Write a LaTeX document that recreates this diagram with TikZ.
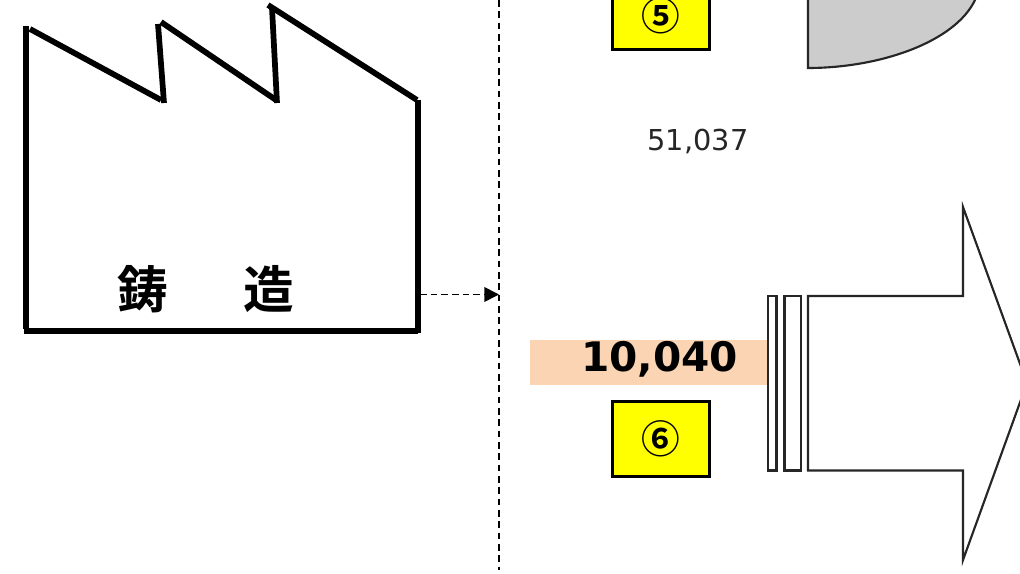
\documentclass[tikz,border=0pt]{standalone}
\usepackage{fontspec}
\setmainfont{DejaVu Sans}
\newfontfamily\jpfont{Noto Sans CJK JP Bold}
\usetikzlibrary{arrows.meta}
\definecolor{peachbar}{HTML}{FBD4B4}
\definecolor{boxyellow}{HTML}{FFFF00}
\tikzset{
  roofline/.style={line width=4.3pt},
  thinline/.style={line width=1.6pt,color=black!85},
  numbox/.style={draw,line width=2pt,fill=boxyellow,minimum width=73pt,minimum height=56pt,inner sep=0pt,font=\jpfont\fontsize{29}{29}\selectfont},
  divline/.style={line width=1.2pt,dash pattern=on 5pt off 3.5pt}
}
\begin{document}
\begin{tikzpicture}[x=0.75pt,y=-0.75pt]
   \clip (0,0) rectangle (1020,574);
   \fill[white] (0,0) rectangle (1020,574);

   % factory
   \draw[roofline] (26,26) -- (26,329);
   \draw[roofline] (24,331) -- (418,331);
   \draw[roofline] (418,100) -- (418,333);
   \draw[roofline] (30,29) -- (161,100);
   \draw[roofline] (158,24) -- (164,103);
   \draw[roofline] (161,22) -- (276,100);
   \draw[roofline] (272,8) -- (277,103);
   \draw[roofline] (268,5) -- (417,100);
   \node (castlabel) at (206,289) {\jpfont\fontsize{38}{38}\selectfont 鋳\hspace{56.5pt}造};

   % divider and dashed arrow
   \coordinate (divtop) at (499,0);
   \coordinate (divbot) at (499,570);
   \coordinate (factoryout) at (420,294.5);
   \coordinate (divmid) at (499,294.5);
   \draw[divline] (divtop) -- (divbot);
   \draw[line width=1.3pt,dash pattern=on 5pt off 3pt,-{Triangle[length=11pt,width=11pt]}] (factoryout) -- (divmid);

   % upper part
   \node[numbox,minimum height=51pt] (boxfive) at (661,15.5) {\raisebox{-0.8pt}{⑤}};
   \draw[thinline,fill=black!20] (808,-5) -- (808,68) .. controls (880,68) and (955,42) .. (975,0) -- (975,-5) -- cycle;
   \node[anchor=base,inner sep=0pt,text=black!85] (upperval) at (698,151) {\fontsize{21.6}{21.6}\selectfont 51,037};

   % lower part
   \fill[peachbar] (530,340) rectangle (767,384.5);
   \node[anchor=base,inner sep=0pt] (lowerval) at (659.5,371) {\bfseries\fontsize{30.5}{30.5}\selectfont 10,040};
   \node[numbox] (boxsix) at (661,439) {\raisebox{-0.8pt}{⑥}};
   \draw[thinline,fill=white] (768,296) rectangle (776.5,470.5);
   \draw[thinline,fill=white] (784.5,296) rectangle (801,470.5);
   \draw[thinline,fill=white] (808,296) -- (963,296) -- (963,207) -- (1027,383) -- (963,560) -- (963,470.5) -- (808,470.5) -- cycle;
\end{tikzpicture}
\end{document}
